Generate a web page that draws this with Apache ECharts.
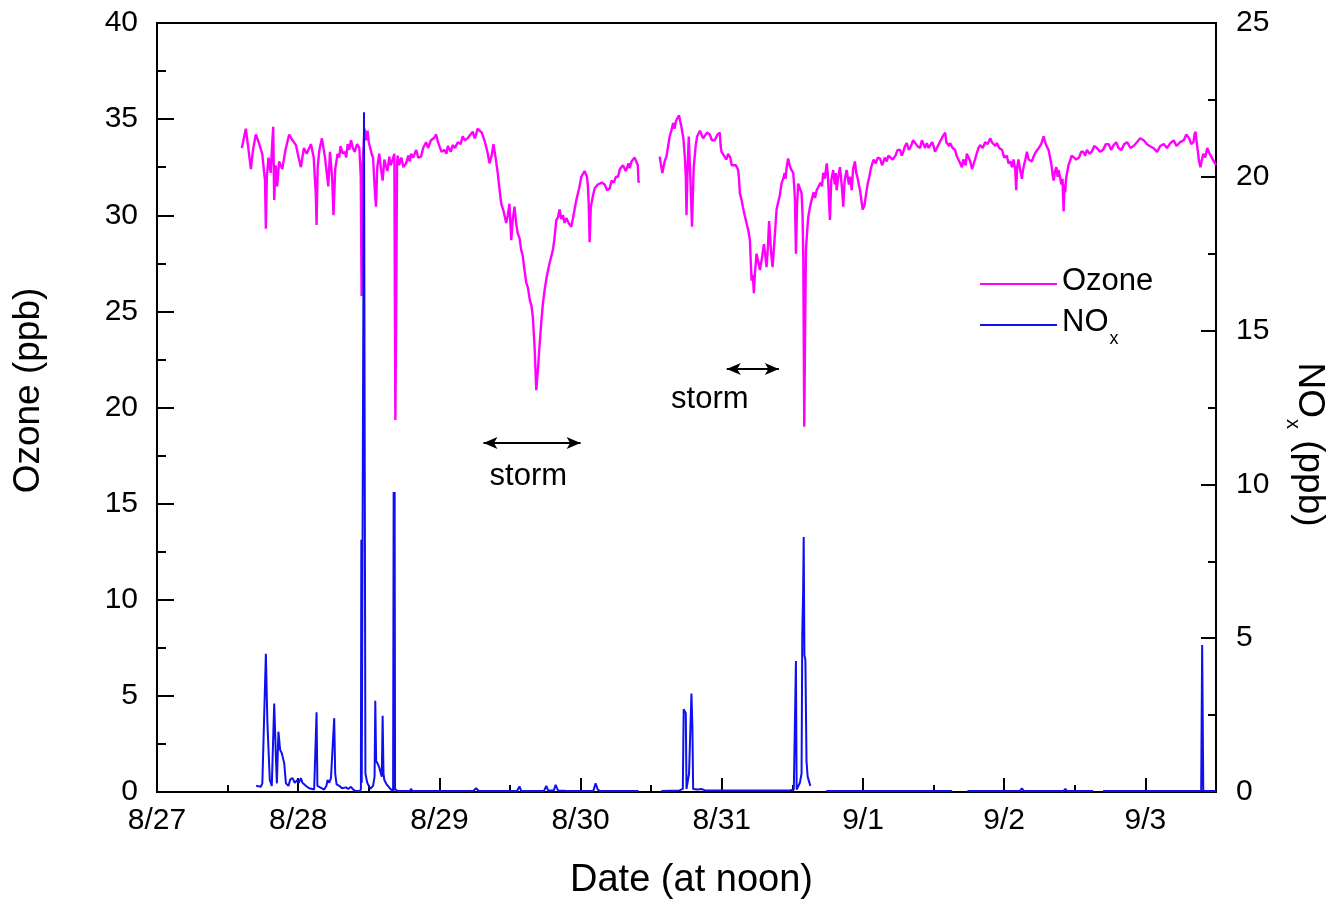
<!DOCTYPE html>
<html>
<head>
<meta charset="utf-8">
<script src="https://cdn.jsdelivr.net/npm/echarts@6/dist/echarts.min.js"></script>
<style>
  html, body { margin: 0; padding: 0; background: #fff; }
  #chart { width: 1343px; height: 902px; }
</style>
</head>
<body>
<div id="chart"></div>
<script>
// x values are days after the 8/27 tick (noon of each date)
const xTickLabels = ['8/27', '8/28', '8/29', '8/30', '8/31', '9/1', '9/2', '9/3'];

const ozone = [
  [0.601,33.5],[0.615,34.0],[0.629,34.5],[0.645,33.6],[0.665,32.4],[0.68,33.4],[0.700,34.2],[0.72,33.8],[0.745,33.2],[0.765,31.8],[0.771,29.3],[0.778,32.0],[0.79,33.0],[0.805,32.2],[0.815,33.6],[0.823,34.6],[0.830,30.8],[0.840,32.6],[0.851,31.5],[0.865,32.8],[0.887,32.4],[0.91,33.4],[0.936,34.2],[0.96,33.9],[0.984,33.65],[1.0,33.1],[1.019,32.5],[1.04,33.5],[1.06,33.2],[1.090,33.7],[1.11,33.0],[1.125,31.0],[1.130,29.5],[1.138,32.5],[1.150,33.4],[1.168,34.0],[1.19,33.0],[1.213,31.5],[1.225,33.3],[1.240,32.0],[1.250,30.0],[1.262,32.4],[1.279,33.2],[1.29,33.0],[1.30,33.6],[1.315,33.2],[1.33,33.3],[1.340,33.0],[1.350,33.7],[1.362,33.4],[1.374,33.9],[1.387,33.5],[1.40,33.3],[1.417,33.7],[1.433,33.5],[1.443,32.0],[1.449,25.8],[1.455,32.5],[1.47,34.5],[1.48,33.9],[1.491,34.4],[1.50,33.8],[1.51,33.5],[1.52,33.2],[1.53,33.0],[1.545,31.0],[1.551,30.45],[1.56,32.5],[1.574,33.2],[1.585,32.5],[1.598,31.8],[1.61,32.9],[1.62,32.6],[1.632,32.3],[1.645,33.05],[1.655,32.6],[1.665,32.8],[1.681,33.2],[1.685,25.0],[1.688,19.35],[1.693,24.0],[1.700,32.6],[1.704,33.1],[1.715,32.6],[1.73,33.0],[1.745,32.5],[1.764,32.7],[1.78,33.1],[1.79,32.8],[1.80,33.2],[1.815,33.0],[1.835,33.4],[1.85,33.0],[1.870,33.05],[1.885,33.5],[1.906,33.8],[1.92,33.5],[1.94,33.9],[1.96,34.0],[1.977,34.2],[1.99,33.8],[2.0,33.7],[2.015,33.3],[2.035,33.4],[2.05,33.2],[2.06,33.6],[2.08,33.3],[2.094,33.65],[2.11,33.5],[2.13,33.8],[2.15,33.7],[2.165,34.1],[2.18,33.9],[2.20,34.0],[2.22,34.2],[2.236,34.35],[2.25,34.0],[2.26,34.2],[2.27,34.5],[2.284,34.6],[2.300,34.3],[2.319,33.9],[2.340,33.3],[2.355,32.7],[2.370,33.1],[2.383,33.7],[2.398,33.0],[2.413,32.2],[2.425,31.4],[2.438,30.6],[2.455,30.2],[2.473,29.6],[2.485,30.0],[2.496,30.6],[2.509,28.7],[2.520,29.8],[2.532,30.45],[2.545,29.5],[2.555,29.05],[2.568,28.8],[2.579,28.2],[2.59,27.9],[2.60,27.3],[2.615,26.5],[2.628,26.2],[2.64,25.6],[2.652,25.3],[2.662,24.7],[2.675,23.0],[2.686,20.9],[2.698,22.0],[2.709,23.2],[2.721,24.4],[2.733,25.4],[2.745,26.1],[2.760,26.8],[2.780,27.5],[2.804,28.2],[2.815,28.8],[2.828,29.75],[2.840,29.9],[2.851,30.3],[2.863,29.8],[2.875,30.0],[2.887,29.6],[2.899,29.85],[2.915,29.6],[2.934,29.4],[2.950,30.0],[2.960,30.4],[2.970,30.8],[2.980,30.9],[2.990,31.4],[3.005,32.0],[3.016,32.1],[3.028,32.3],[3.045,32.0],[3.052,31.5],[3.058,30.5],[3.064,28.6],[3.072,30.4],[3.087,31.0],[3.10,31.4],[3.11,31.3],[3.122,31.6],[3.135,31.5],[3.15,31.7],[3.17,31.6],[3.188,31.3],[3.206,31.4],[3.22,31.8],[3.235,31.7],[3.25,32.0],[3.265,32.0],[3.278,32.4],[3.290,32.3],[3.30,32.6],[3.312,32.7],[3.32,32.3],[3.330,32.4],[3.34,32.7],[3.348,32.45],[3.36,32.8],[3.370,32.7],[3.383,33.0],[3.395,33.05],[3.405,32.6],[3.41,31.7],[3.414,31.8],
  [3.487,'-'],
  [3.560,33.05],[3.579,32.2],[3.595,32.8],[3.608,33.05],[3.62,33.6],[3.631,34.1],[3.643,34.4],[3.655,34.8],[3.665,34.5],[3.675,34.9],[3.686,35.0],[3.697,35.2],[3.705,34.9],[3.714,34.6],[3.728,34.0],[3.738,33.05],[3.745,32.0],[3.750,30.0],[3.758,32.5],[3.766,34.1],[3.772,33.0],[3.778,31.8],[3.789,29.4],[3.795,31.0],[3.801,32.5],[3.815,33.6],[3.825,34.1],[3.835,34.0],[3.845,34.4],[3.856,34.35],[3.868,34.0],[3.88,33.9],[3.895,34.3],[3.915,34.2],[3.93,33.9],[3.95,33.9],[3.97,34.2],[3.986,34.3],[3.992,33.6],[3.998,33.3],[4.015,33.1],[4.033,32.9],[4.045,33.2],[4.060,33.0],[4.070,32.6],[4.080,32.7],[4.100,32.6],[4.116,32.35],[4.122,31.9],[4.128,31.15],[4.140,30.8],[4.150,30.4],[4.162,30.0],[4.175,29.6],[4.188,29.2],[4.199,28.7],[4.205,27.6],[4.211,26.6],[4.220,26.9],[4.227,25.95],[4.235,27.0],[4.246,28.0],[4.258,27.6],[4.270,27.15],[4.285,27.8],[4.298,28.5],[4.307,28.0],[4.317,27.3],[4.327,28.4],[4.335,29.7],[4.342,28.9],[4.348,28.2],[4.355,27.6],[4.360,27.3],[4.372,28.6],[4.388,30.3],[4.400,30.7],[4.410,31.0],[4.423,31.65],[4.435,31.9],[4.445,32.2],[4.452,31.9],[4.459,32.5],[4.470,32.95],[4.480,32.6],[4.490,32.4],[4.506,32.2],[4.512,31.6],[4.518,30.8],[4.525,28.0],[4.533,30.5],[4.541,31.65],[4.555,31.6],[4.565,31.15],[4.572,30.0],[4.577,27.85],[4.584,19.0],[4.590,24.0],[4.596,28.2],[4.604,29.1],[4.612,29.9],[4.624,30.4],[4.636,30.8],[4.650,31.2],[4.660,30.9],[4.672,31.3],[4.686,31.4],[4.700,31.7],[4.710,31.5],[4.718,32.2],[4.730,31.9],[4.743,32.7],[4.750,32.2],[4.755,31.5],[4.760,30.6],[4.766,29.75],[4.775,31.8],[4.789,32.35],[4.800,31.6],[4.807,32.2],[4.813,31.3],[4.825,32.0],[4.837,32.5],[4.850,31.5],[4.855,31.0],[4.860,30.45],[4.870,31.8],[4.884,32.35],[4.892,32.0],[4.900,31.6],[4.910,32.0],[4.920,31.3],[4.930,32.4],[4.943,32.8],[4.952,32.2],[4.960,32.0],[4.970,31.6],[4.979,31.3],[4.990,30.7],[4.998,30.3],[5.010,30.5],[5.026,31.3],[5.035,31.7],[5.045,32.0],[5.052,32.3],[5.062,32.6],[5.075,32.9],[5.09,32.7],[5.105,33.0],[5.121,32.95],[5.135,32.6],[5.145,32.7],[5.155,33.0],[5.168,32.8],[5.18,33.1],[5.191,33.2],[5.21,32.9],[5.23,33.1],[5.245,33.4],[5.262,33.4],[5.275,33.1],[5.285,33.3],[5.297,33.6],[5.310,33.75],[5.325,33.4],[5.34,33.6],[5.355,33.9],[5.369,33.9],[5.385,33.6],[5.404,33.5],[5.417,33.9],[5.430,33.8],[5.44,33.5],[5.452,33.75],[5.465,33.5],[5.475,33.4],[5.49,33.8],[5.500,33.6],[5.51,33.3],[5.523,33.4],[5.537,33.7],[5.550,33.9],[5.565,34.1],[5.582,34.3],[5.59,33.8],[5.600,33.9],[5.61,33.6],[5.617,33.75],[5.635,33.5],[5.652,33.4],[5.663,33.1],[5.675,33.0],[5.688,32.7],[5.700,32.5],[5.71,32.9],[5.718,33.0],[5.727,32.6],[5.735,33.2],[5.748,33.0],[5.760,32.8],[5.772,32.4],[5.782,32.5],[5.793,32.9],[5.805,33.2],[5.818,33.5],[5.830,33.65],[5.848,33.5],[5.865,33.8],[5.883,33.7],[5.901,34.0],[5.913,33.8],[5.925,33.9],[5.937,33.6],[5.948,33.75],[5.965,33.5],[5.985,33.4],[6.0,33.0],[6.019,33.1],[6.03,32.7],[6.045,32.8],[6.055,32.5],[6.066,32.9],[6.078,32.4],[6.085,31.3],[6.092,32.5],[6.101,32.9],[6.112,32.4],[6.125,31.9],[6.132,32.3],[6.140,32.6],[6.150,32.9],[6.161,33.3],[6.173,32.9],[6.185,33.0],[6.196,32.8],[6.208,33.05],[6.225,33.3],[6.245,33.5],[6.262,33.7],[6.279,34.1],[6.29,33.8],[6.300,33.6],[6.314,33.4],[6.325,33.0],[6.335,32.6],[6.343,32.1],[6.350,31.8],[6.36,32.3],[6.370,32.5],[6.378,32.0],[6.385,32.35],[6.395,32.0],[6.405,31.6],[6.413,31.9],[6.421,30.2],[6.427,31.6],[6.432,31.2],[6.438,31.9],[6.445,32.2],[6.455,32.6],[6.465,32.8],[6.478,33.1],[6.491,33.2],[6.51,32.9],[6.530,33.0],[6.545,33.3],[6.560,33.3],[6.573,33.1],[6.586,33.4],[6.603,33.2],[6.620,33.3],[6.638,33.6],[6.657,33.5],[6.678,33.3],[6.700,33.4],[6.72,33.7],[6.740,33.7],[6.757,33.4],[6.775,33.65],[6.793,33.8],[6.810,33.5],[6.83,33.4],[6.850,33.7],[6.872,33.8],[6.894,33.5],[6.916,33.6],[6.94,33.8],[6.963,34.0],[6.988,33.9],[7.01,33.7],[7.03,33.6],[7.056,33.5],[7.083,33.3],[7.105,33.6],[7.13,33.7],[7.153,33.5],[7.177,33.75],[7.2,33.9],[7.22,33.6],[7.245,33.8],[7.272,33.9],[7.29,34.2],[7.31,34.0],[7.325,33.7],[7.340,33.8],[7.348,34.2],[7.355,34.35],[7.362,33.9],[7.370,33.4],[7.38,32.8],[7.390,32.5],[7.40,32.9],[7.410,33.2],[7.424,33.0],[7.438,33.5],[7.455,33.2],[7.47,33.0],[7.485,32.8],[7.5,32.6]
];

const nox = [
  [0.702,0.2],[0.735,0.17],[0.746,0.28],[0.771,4.49],[0.782,2.23],[0.799,0.39],[0.813,0.2],[0.830,2.88],[0.842,1.15],[0.849,0.28],[0.860,1.96],[0.872,1.37],[0.884,1.26],[0.901,0.93],[0.913,0.28],[0.931,0.2],[0.945,0.42],[0.960,0.45],[0.975,0.3],[0.995,0.39],[1.005,0.3],[1.019,0.45],[1.03,0.3],[1.043,0.28],[1.06,0.18],[1.078,0.12],[1.113,0.08],[1.125,0.1],[1.130,2.59],[1.136,0.2],[1.144,0.15],[1.184,0.08],[1.2,0.2],[1.208,0.39],[1.22,0.3],[1.232,0.45],[1.245,0.5],[1.255,2.4],[1.262,0.6],[1.272,0.25],[1.291,0.2],[1.31,0.12],[1.338,0.15],[1.355,0.1],[1.374,0.17],[1.39,0.08],[1.409,0.03],[1.438,0.03],[1.444,0.1],[1.447,8.2],[1.45,0.3],[1.462,0.3],[1.466,22.1],[1.472,22.1],[1.476,0.6],[1.489,0.3],[1.511,0.1],[1.53,0.2],[1.541,0.5],[1.546,2.97],[1.552,1.0],[1.562,0.93],[1.574,0.8],[1.592,0.5],[1.598,2.48],[1.604,0.6],[1.610,0.39],[1.626,0.25],[1.657,0.08],[1.672,0.05],[1.676,9.75],[1.680,0.05],[1.683,9.75],[1.686,0.1],[1.704,0.03],[1.79,0.03],[1.799,0.1],[1.81,0.03],[2.24,0.03],[2.26,0.12],[2.28,0.03],[2.55,0.03],[2.567,0.18],[2.58,0.03],[2.74,0.03],[2.757,0.2],[2.77,0.05],[2.81,0.05],[2.823,0.23],[2.84,0.05],[2.88,0.04],[2.899,0.03],[3.09,0.03],[3.106,0.28],[3.121,0.08],[3.14,0.03],[3.35,0.03],[3.360,0.06],[3.41,0.03],
  [3.49,'-'],
  [3.572,0.03],[3.70,0.05],[3.724,0.1],[3.730,2.69],[3.745,2.56],[3.750,0.1],[3.754,0.08],[3.768,0.6],[3.785,3.2],[3.792,2.07],[3.797,0.1],[3.801,0.08],[3.83,0.08],[3.856,0.1],[3.88,0.05],[4.482,0.05],[4.51,0.08],[4.518,0.1],[4.525,4.26],[4.530,0.08],[4.553,0.3],[4.565,0.6],[4.570,5.16],[4.576,6.5],[4.580,8.29],[4.585,4.45],[4.592,4.3],[4.600,1.0],[4.608,0.5],[4.627,0.2],
  [4.68,'-'],
  [4.74,0.03],[5.63,0.03],
  [5.68,'-'],
  [5.74,0.03],[6.11,0.03],[6.125,0.12],[6.14,0.03],[6.42,0.03],[6.433,0.1],[6.445,0.03],[6.63,0.03],
  [6.66,'-'],
  [6.70,0.03],[7.395,0.03],[7.402,4.78],[7.41,0.03],[7.5,0.03]
];

// storm annotations: [start day, end day, ozone level of arrow]
const stormArrows = [[2.312, 3.0, 18.15], [4.035, 4.404, 22.0]];
// storm text: [day, ozone level]
const stormLabels = [[2.63, 16.4], [3.915, 20.4]];

const FONT = 'Liberation Sans, Arial, sans-serif';
const chart = echarts.init(document.getElementById('chart'));

chart.setOption({
  animation: false,
  backgroundColor: '#fff',
  textStyle: { fontFamily: FONT, color: '#000' },
  grid: {
    left: 157, right: 127, top: 23, bottom: 110, containLabel: false, outerBoundsMode: 'none',
    show: true, borderColor: '#000', borderWidth: 2, backgroundColor: 'transparent'
  },
  legend: {
    orient: 'vertical', left: 975, top: 261, itemWidth: 77, itemHeight: 2, itemGap: 10,
    icon: 'rect',
    textStyle: {
      color: '#000', fontFamily: FONT,
      rich: {
        n: { fontSize: 31, fontFamily: FONT, color: '#000', lineHeight: 36, verticalAlign: 'top' },
        s: { fontSize: 18, fontFamily: FONT, color: '#000', lineHeight: 18, verticalAlign: 'top', padding: [23, 0, 0, 1] }
      }
    },
    formatter: function (name) { return name === 'NOx' ? '{n|NO}{s|x}' : '{n|' + name + '}'; },
    data: ['Ozone', 'NOx']
  },
  xAxis: {
    type: 'value', min: 0, max: 7.5, interval: 1,
    name: 'Date (at noon)', nameLocation: 'middle', nameGap: 70,
    nameTextStyle: { fontSize: 38, fontFamily: FONT, color: '#000', padding: [0, 0, 0, 10] },
    axisLine: { show: true, onZero: false, lineStyle: { color: '#000', width: 2 } },
    axisTick: { show: true, inside: true, length: 14, lineStyle: { color: '#000', width: 2 } },
    minorTick: { show: true, splitNumber: 2, length: 7, lineStyle: { color: '#000', width: 2 } },
    splitLine: { show: false },
    axisLabel: {
      fontSize: 30, color: '#000', fontFamily: FONT, margin: 14, showMaxLabel: false,
      formatter: function (v) { return Number.isInteger(v) && xTickLabels[v] ? xTickLabels[v] : ''; }
    }
  },
  yAxis: [
    {
      type: 'value', min: 0, max: 40, interval: 5, position: 'left',
      name: 'Ozone (ppb)', nameLocation: 'middle', nameGap: 110, nameRotate: 90,
      nameTextStyle: { fontSize: 37, fontFamily: FONT, color: '#000', padding: [0, 0, 0, 34] },
      axisLine: { show: true, onZero: false, lineStyle: { color: '#000', width: 2 } },
      axisTick: { show: true, inside: true, length: 17, lineStyle: { color: '#000', width: 2 } },
      minorTick: { show: true, splitNumber: 2, length: 9, lineStyle: { color: '#000', width: 2 } },
      splitLine: { show: false },
      axisLabel: { fontSize: 30, color: '#000', fontFamily: FONT, margin: 19 }
    },
    {
      type: 'value', min: 0, max: 25, interval: 5, position: 'right',
      name: '{n|NO}{s|x}{n| (ppb)}', nameLocation: 'middle', nameGap: 72, nameRotate: -90,
      nameTextStyle: {
        color: '#000', fontFamily: FONT, padding: [0, 0, 0, 74],
        rich: {
          n: { fontSize: 37, fontFamily: FONT, color: '#000', lineHeight: 40, verticalAlign: 'top' },
          s: { fontSize: 20, fontFamily: FONT, color: '#000', lineHeight: 20, verticalAlign: 'top', padding: [25, 1, 0, 1] }
        }
      },
      axisLine: { show: true, onZero: false, lineStyle: { color: '#000', width: 2 } },
      axisTick: { show: true, inside: true, length: 15, lineStyle: { color: '#000', width: 2 } },
      minorTick: { show: true, splitNumber: 2, length: 8, lineStyle: { color: '#000', width: 2 } },
      splitLine: { show: false },
      axisLabel: { fontSize: 30, color: '#000', fontFamily: FONT, margin: 20 }
    }
  ],
  series: [
    {
      name: 'Ozone', type: 'line', yAxisIndex: 0, data: ozone,
      symbol: 'none', showSymbol: false, connectNulls: false,
      lineStyle: { color: '#ff00ff', width: 2.4 }, itemStyle: { color: '#ff00ff' },
      markLine: {
        silent: true, symbol: ['arrow', 'arrow'], symbolSize: [9, 14],
        lineStyle: { color: '#000', width: 2, type: 'solid' },
        label: { show: false },
        data: stormArrows.map(function (a) { return [{ coord: [a[0], a[2]] }, { coord: [a[1], a[2]] }]; })
      },
      markPoint: {
        silent: true, symbol: 'rect', symbolSize: 1,
        itemStyle: { color: 'rgba(0,0,0,0)' },
        label: { show: true, position: 'inside', formatter: 'storm', fontSize: 31, color: '#000', fontFamily: FONT },
        data: stormLabels.map(function (p) { return { coord: p }; })
      }
    },
    {
      name: 'NOx', type: 'line', yAxisIndex: 1, data: nox,
      symbol: 'none', showSymbol: false, connectNulls: false,
      lineStyle: { color: '#1010ee', width: 2 }, itemStyle: { color: '#1010ee' }
    }
  ]
});
</script>
</body>
</html>
